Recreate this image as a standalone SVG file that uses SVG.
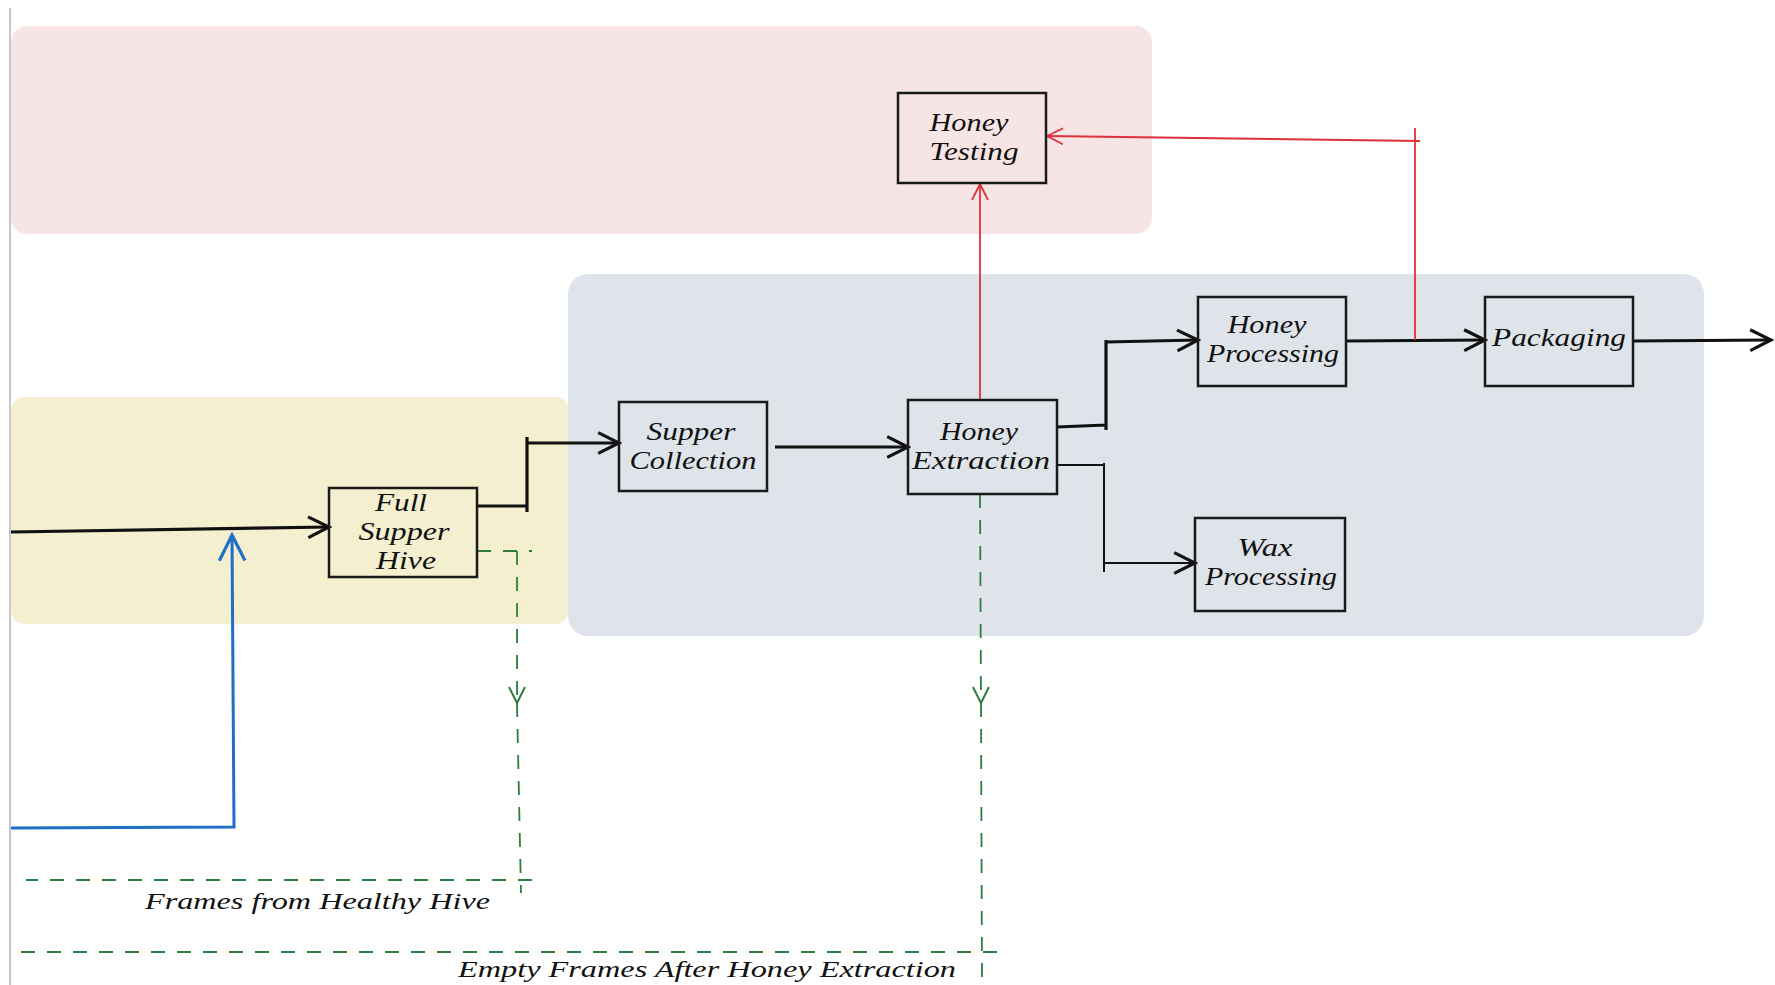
<svg xmlns="http://www.w3.org/2000/svg" width="1775" height="985" viewBox="0 0 1775 985">
<style>
.region{stroke:none}
.box{fill:none;stroke:#1a1a1a;stroke-width:2.5}
.lbl{font-family:"Liberation Serif",serif;font-style:italic;font-size:26px;fill:#111;text-anchor:middle}
.note{font-family:"Liberation Serif",serif;font-style:italic;font-size:24px;fill:#111}
.blk{fill:none;stroke:#111;stroke-width:3.2;stroke-linejoin:miter}
.blkthin{fill:none;stroke:#111;stroke-width:2}
.red{fill:none;stroke:#e0303a;stroke-width:1.8}
.blue{fill:none;stroke:#1f6fc5;stroke-width:3}
.green{fill:none;stroke:#2e7d3e;stroke-width:1.8;stroke-dasharray:14 12}
</style>
<defs>
<marker id="ab" viewBox="0 0 20 20" refX="18" refY="10" markerWidth="26" markerHeight="28" markerUnits="userSpaceOnUse" orient="auto">
<path d="M2,2 L18,10 L2,18" fill="none" stroke="#111" stroke-width="2.4"/>
</marker>
<marker id="ar" viewBox="0 0 20 20" refX="18" refY="10" markerWidth="20" markerHeight="20" markerUnits="userSpaceOnUse" orient="auto">
<path d="M2,2 L18,10 L2,18" fill="none" stroke="#e0303a" stroke-width="1.8"/>
</marker>
<marker id="au" viewBox="0 0 20 20" refX="18" refY="10" markerWidth="32" markerHeight="38" markerUnits="userSpaceOnUse" orient="auto">
<path d="M2,2 L18,10 L2,18" fill="none" stroke="#1f6fc5" stroke-width="2"/>
</marker>
<marker id="ag" viewBox="0 0 20 20" refX="18" refY="10" markerWidth="22" markerHeight="20" markerUnits="userSpaceOnUse" orient="auto">
<path d="M2,2 L18,10 L2,18" fill="none" stroke="#2e7d3e" stroke-width="2"/>
</marker>
</defs>
<rect width="1775" height="985" fill="#ffffff"/>
<g id="regions">
<rect class="region" x="11" y="26" width="1141" height="208" rx="16" fill="#f7e5e5"/>
<rect class="region" x="11" y="397" width="558" height="227" rx="14" fill="#f3efcf"/>
<rect class="region" x="568" y="274" width="1136" height="362" rx="20" fill="#dfe3ea"/>
</g>
<line x1="10" y1="8" x2="10" y2="985" stroke="#c8c8c8" stroke-width="2"/>
<g id="connectors">
<path class="blk" d="M11,532 L329,527" marker-end="url(#ab)"/>
<path class="blue" d="M11,828 L234,827 L232,535" marker-end="url(#au)"/>
<path class="blk" d="M477,506 L527,506 M527,437 L527,512 M527,443 L619,443" marker-end="url(#ab)"/>
<path class="blk" d="M775,447 L908,447" marker-end="url(#ab)"/>
<path class="blk" d="M1057,427 L1106,425 M1106,340 L1106,430 M1106,342 L1198,340" marker-end="url(#ab)"/>
<path class="blkthin" d="M1057,465 L1104,465 M1104,463 L1104,572 M1104,563 L1195,563" marker-end="url(#ab)"/>
<path class="blk" d="M1346,341 L1485,340" marker-end="url(#ab)"/>
<path class="blk" d="M1633,341 L1771,340" marker-end="url(#ab)"/>
<path class="red" d="M980,400 L980,184" marker-end="url(#ar)"/>
<path class="red" d="M1415,340 L1415,128 M1420,141 L1047,136" marker-end="url(#ar)"/>
<path class="green" d="M477,551 L532,551"/>
<path class="green" d="M517,551 L517,703" marker-end="url(#ag)"/>
<path class="green" d="M517,703 L521,893"/>
<path class="green" d="M532,880 L26,880"/>
<path class="green" d="M980,494 L981,703" marker-end="url(#ag)"/>
<path class="green" d="M981,703 L982,985"/>
<path class="green" d="M997,952 L12,952"/>
</g>
<g id="node-honey-testing">
<rect class="box" x="898" y="93" width="148" height="90"/>
<text class="lbl" x="969" y="131" textLength="79" lengthAdjust="spacingAndGlyphs">Honey</text>
<text class="lbl" x="974" y="160" textLength="89" lengthAdjust="spacingAndGlyphs">Testing</text>
</g>
<g id="node-full-supper-hive">
<rect class="box" x="329" y="488" width="148" height="89"/>
<text class="lbl" x="401" y="511" textLength="52" lengthAdjust="spacingAndGlyphs">Full</text>
<text class="lbl" x="404" y="540" textLength="91" lengthAdjust="spacingAndGlyphs">Supper</text>
<text class="lbl" x="406" y="569" textLength="60" lengthAdjust="spacingAndGlyphs">Hive</text>
</g>
<g id="node-supper-collection">
<rect class="box" x="619" y="402" width="148" height="89"/>
<text class="lbl" x="691" y="440" textLength="89" lengthAdjust="spacingAndGlyphs">Supper</text>
<text class="lbl" x="693" y="469" textLength="127" lengthAdjust="spacingAndGlyphs">Collection</text>
</g>
<g id="node-honey-extraction">
<rect class="box" x="908" y="400" width="149" height="94"/>
<text class="lbl" x="979" y="440" textLength="78" lengthAdjust="spacingAndGlyphs">Honey</text>
<text class="lbl" x="981" y="469" textLength="138" lengthAdjust="spacingAndGlyphs">Extraction</text>
</g>
<g id="node-honey-processing">
<rect class="box" x="1198" y="297" width="148" height="89"/>
<text class="lbl" x="1267" y="333" textLength="79" lengthAdjust="spacingAndGlyphs">Honey</text>
<text class="lbl" x="1273" y="362" textLength="132" lengthAdjust="spacingAndGlyphs">Processing</text>
</g>
<g id="node-packaging">
<rect class="box" x="1485" y="297" width="148" height="89"/>
<text class="lbl" x="1559" y="346" textLength="134" lengthAdjust="spacingAndGlyphs">Packaging</text>
</g>
<g id="node-wax-processing">
<rect class="box" x="1195" y="518" width="150" height="93"/>
<text class="lbl" x="1265" y="556" textLength="55" lengthAdjust="spacingAndGlyphs">Wax</text>
<text class="lbl" x="1271" y="585" textLength="132" lengthAdjust="spacingAndGlyphs">Processing</text>
</g>
<g id="labels">
<text class="note" x="145" y="909" textLength="345" lengthAdjust="spacingAndGlyphs">Frames from Healthy Hive</text>
<text class="note" x="458" y="977" textLength="498" lengthAdjust="spacingAndGlyphs">Empty Frames After Honey Extraction</text>
</g>
</svg>
